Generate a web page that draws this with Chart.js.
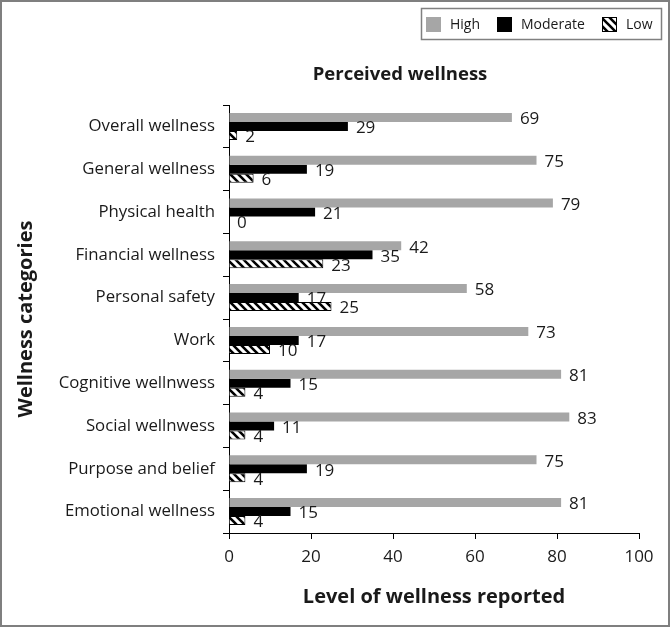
<!DOCTYPE html>
<html>
<head>
<meta charset="utf-8">
<script src="https://cdn.jsdelivr.net/npm/chart.js@4.4.1/dist/chart.umd.min.js"></script>
<style>
  body { margin: 0; background: #fff; }
  canvas { display: block; }
</style>
</head>
<body>
<canvas id="wellnessChart" width="670" height="627"></canvas>
<script>
const categories = ['Overall wellness', 'General wellness', 'Physical health', 'Financial wellness',
  'Personal safety', 'Work', 'Cognitive wellnwess', 'Social wellnwess', 'Purpose and belief', 'Emotional wellness'];
const highValues = [69, 75, 79, 42, 58, 73, 81, 83, 75, 81];
const moderateValues = [29, 19, 21, 35, 17, 17, 15, 11, 19, 15];
const lowValues = [2, 6, 0, 23, 25, 10, 4, 4, 4, 4];
const xTicks = [0, 20, 40, 60, 80, 100];

Chart.defaults.font.family = "'Open Sans', sans-serif";
Chart.defaults.color = '#1a1a1a';

// diagonal hatch for the "Low" series
function makeHatch() {
  const c = document.createElement('canvas');
  c.width = 8; c.height = 8;
  const g = c.getContext('2d');
  g.fillStyle = '#fff';
  g.fillRect(0, 0, 8, 8);
  g.strokeStyle = '#000';
  g.lineWidth = 2.6;
  g.beginPath();
  g.moveTo(-2, -2); g.lineTo(10, 10);
  g.moveTo(-2, 6); g.lineTo(2, 10);
  g.moveTo(6, -2); g.lineTo(10, 2);
  g.stroke();
  return g.createPattern(c, 'repeat');
}
const hatch = makeHatch();

const extras = {
  id: 'extras',
  afterDatasetsDraw(chart) {
    const ctx = chart.ctx;
    ctx.save();
    // value labels
    ctx.font = "17px 'Open Sans', sans-serif";
    ctx.fillStyle = '#1a1a1a';
    ctx.textAlign = 'left';
    ctx.textBaseline = 'middle';
    chart.data.datasets.forEach((ds, i) => {
      chart.getDatasetMeta(i).data.forEach((bar, j) => {
        ctx.fillText(String(ds.data[j]), bar.x + 8, bar.y + 2);
      });
    });
    ctx.restore();
  },
  afterDraw(chart) {
    const ctx = chart.ctx;
    ctx.save();
    // outer frame
    ctx.strokeStyle = '#7f7f7f';
    ctx.lineWidth = 2;
    ctx.strokeRect(1, 1, chart.width - 2, chart.height - 2);
    // title
    ctx.font = "bold 18.5px 'Open Sans', sans-serif";
    ctx.fillStyle = '#1a1a1a';
    ctx.textAlign = 'center';
    ctx.textBaseline = 'middle';
    ctx.fillText('Perceived wellness', 400, 75);
    // legend
    ctx.strokeStyle = '#808080';
    ctx.lineWidth = 1.5;
    ctx.strokeRect(421.5, 8.5, 240, 31);
    ctx.font = "14px 'Open Sans', sans-serif";
    ctx.textAlign = 'left';
    const xs = [426, 497, 602];
    chart.data.datasets.forEach((ds, i) => {
      const x = xs[i];
      ctx.fillStyle = ds.backgroundColor;
      ctx.fillRect(x, 17, 15, 15);
      if (ds.borderWidth) {
        ctx.strokeStyle = '#000';
        ctx.lineWidth = 1;
        ctx.strokeRect(x + 0.5, 17.5, 14, 14);
      }
      ctx.fillStyle = '#1a1a1a';
      ctx.fillText(ds.label, x + 24, 25);
    });
    ctx.restore();
  }
};

new Chart(document.getElementById('wellnessChart'), {
  type: 'bar',
  data: {
    labels: categories,
    datasets: [
      { label: 'High', data: highValues, backgroundColor: '#a6a6a6', borderWidth: 0 },
      { label: 'Moderate', data: moderateValues, backgroundColor: '#000000', borderWidth: 0 },
      { label: 'Low', data: lowValues, backgroundColor: hatch, borderColor: '#000', borderWidth: 1 }
    ]
  },
  options: {
    indexAxis: 'y',
    responsive: false,
    devicePixelRatio: 1,
    animation: false,
    categoryPercentage: 0.63,
    barPercentage: 1,
    layout: { padding: { top: 105, right: 31, left: 8, bottom: 0 } },
    plugins: {
      legend: { display: false },
      title: { display: false },
      tooltip: { enabled: false }
    },
    scales: {
      x: {
        min: 0, max: 100,
        afterBuildTicks: s => { s.ticks = xTicks.map(v => ({ value: v })); },
        afterFit: s => { s.height = 94; },
        border: { color: '#000', width: 1 },
        grid: { drawOnChartArea: false, tickLength: 6, color: '#000' },
        ticks: { font: { size: 17 }, padding: 8, color: '#1a1a1a' },
        title: {
          display: true, text: 'Level of wellness reported',
          font: { size: 20, weight: 'bold' }, color: '#1a1a1a',
          padding: { top: 0, bottom: 18 }
        }
      },
      y: {
        afterFit: s => { s.width = 221; },
        border: { color: '#000', width: 1 },
        grid: { drawOnChartArea: false, tickLength: 6, color: '#000', offset: true },
        ticks: { font: { size: 16.8 }, padding: 8, color: '#1a1a1a' },
        title: {
          display: true, text: 'Wellness categories',
          font: { size: 20, weight: 'bold' }, color: '#1a1a1a',
          padding: { top: 6, bottom: 0 }
        }
      }
    }
  },
  plugins: [extras]
});
</script>
</body>
</html>
